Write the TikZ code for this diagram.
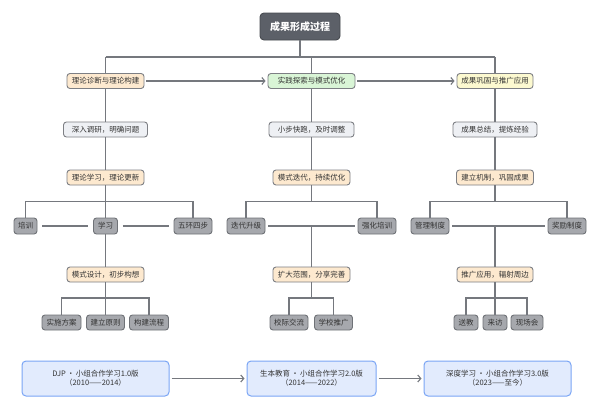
\documentclass[tikz,border=0pt]{standalone}
\usepackage{fontspec}
\setmainfont{Noto Sans CJK SC}
\usetikzlibrary{arrows.meta}
\definecolor{ln}{HTML}{75787E}
\definecolor{rootfill}{HTML}{5C6068}
\definecolor{rootdraw}{HTML}{474A50}
\definecolor{peach}{HTML}{FDE9CF}
\definecolor{greenf}{HTML}{D9F5D6}
\definecolor{yellowf}{HTML}{FCF9D0}
\definecolor{lgray}{HTML}{EEF0F4}
\definecolor{leaff}{HTML}{A6A8AD}
\definecolor{leafd}{HTML}{6F7277}
\definecolor{boxd}{HTML}{7D7F84}
\definecolor{bluef}{HTML}{E2EBFD}
\definecolor{blued}{HTML}{7AA5F5}
\definecolor{txt}{HTML}{333333}
\tikzset{
  base/.style={rectangle, rounded corners=3pt, inner sep=0pt, line width=0.9pt, draw=boxd, text=txt, font=\fontsize{7.5}{9}\selectfont, align=center},
  rootbox/.style={base, fill=rootfill, draw=rootdraw, text=white, font=\fontsize{10}{12}\selectfont\bfseries, minimum width=80pt, minimum height=27pt, rounded corners=4pt},
  peachbox/.style={base, fill=peach, minimum height=15pt},
  greenbox/.style={base, fill=greenf, minimum height=15pt},
  yellowbox/.style={base, fill=yellowf, minimum height=15pt},
  graybox/.style={base, fill=lgray, minimum height=15pt},
  leafbox/.style={base, fill=leaff, draw=leafd, minimum height=16pt},
  bluebox/.style={base, fill=bluef, draw=blued, line width=1pt, minimum height=35pt, rounded corners=4pt},
  conn/.style={draw=ln, line width=1.1pt},
  arr/.style={conn, -{Straight Barb[length=3pt,width=7pt]}},
}
\begin{document}
\begin{tikzpicture}[x=1pt,y=-1pt]
\useasboundingbox (0,0) rectangle (600,410);
\fill[white] (0,0) rectangle (600,410);

% root
\node[rootbox] (root) at (300,26.5) {成果形成过程};

% level 1
\node[peachbox, minimum width=77pt] (a1) at (105.5,81) {理论诊断与理论构建};
\node[greenbox, minimum width=87pt] (a2) at (311.5,81) {实践探索与模式优化};
\node[yellowbox, minimum width=76pt] (a3) at (495,81) {成果巩固与推广应用};

% level 2
\node[graybox, minimum width=84pt] (b1) at (105.5,129.5) {深入调研，明确问题};
\node[graybox, minimum width=85pt] (b2) at (311.5,129.5) {小步快跑，及时调整};
\node[graybox, minimum width=84pt] (b3) at (495,129.5) {成果总结，提炼经验};

% level 3
\node[peachbox, minimum width=77pt] (c1) at (105.5,177.5) {理论学习，理论更新};
\node[peachbox, minimum width=77pt] (c2) at (311.5,177.5) {模式迭代，持续优化};
\node[peachbox, minimum width=77pt] (c3) at (495,177.5) {建立机制，巩固成果};

% level 4 leaves
\node[leafbox, minimum width=23pt] (p1) at (25.5,226) {培训};
\node[leafbox, minimum width=24pt] (p2) at (105.5,226) {学习};
\node[leafbox, minimum width=38pt] (p3) at (193,226) {五环四步};
\node[leafbox, minimum width=38pt] (q1) at (246,226) {迭代升级};
\node[leafbox, minimum width=38pt] (q2) at (377,226) {强化培训};
\node[leafbox, minimum width=38pt] (r1) at (430,226) {管理制度};
\node[leafbox, minimum width=38pt] (r2) at (567,226) {奖励制度};

% level 5
\node[peachbox, minimum width=77pt] (d1) at (105.5,274.5) {模式设计，初步构想};
\node[peachbox, minimum width=77pt] (d2) at (311.5,274.5) {扩大范围，分享完善};
\node[peachbox, minimum width=76pt] (d3) at (495,274.5) {推广应用，辐射周边};

% level 6 leaves
\node[leafbox, minimum width=39pt, minimum height=15pt] (s1) at (61.5,322.5) {实施方案};
\node[leafbox, minimum width=38pt, minimum height=15pt] (s2) at (105.5,322.5) {建立原则};
\node[leafbox, minimum width=39pt, minimum height=15pt] (s3) at (149,322.5) {构建流程};
\node[leafbox, minimum width=38pt, minimum height=15pt] (t1) at (289,322.5) {校际交流};
\node[leafbox, minimum width=38pt, minimum height=15pt] (t2) at (333.5,322.5) {学校推广};
\node[leafbox, minimum width=24pt, minimum height=15pt] (u1) at (466,322.5) {送教};
\node[leafbox, minimum width=24pt, minimum height=15pt] (u2) at (495,322.5) {来访};
\node[leafbox, minimum width=32pt, minimum height=15pt] (u3) at (527,322.5) {现场会};

% bottom
\node[bluebox, minimum width=147pt] (e1) at (95.5,378.5) {DJP\,•\,小组合作学习1.0版\\（2010——2014）};
\node[bluebox, minimum width=129pt] (e2) at (311.5,378.5) {生本教育\,•\,小组合作学习2.0版\\（2014——2022）};
\node[bluebox, minimum width=147pt] (e3) at (497.5,378.5) {深度学习\,•\,小组合作学习3.0版\\（2023——至今）};

% coordinates
\coordinate (rb) at (300,57);
\coordinate (bl) at (105.5,57);
\coordinate (br) at (495,57);
\coordinate (m2) at (311.5,57);

\coordinate (k1) at (105.5,201.5);
\coordinate (k1l) at (25.5,201.5);
\coordinate (k1r) at (193,201.5);
\coordinate (k2) at (311.5,201.5);
\coordinate (k2l) at (246,201.5);
\coordinate (k2r) at (377,201.5);
\coordinate (k3) at (495,201.5);
\coordinate (k3l) at (430,201.5);
\coordinate (k3r) at (567,201.5);
\coordinate (j2) at (311.5,226);
\coordinate (j3) at (495,226);

\coordinate (h1) at (105.5,298);
\coordinate (h1l) at (61.5,298);
\coordinate (h1r) at (149,298);
\coordinate (h2) at (311.5,298);
\coordinate (h2l) at (289,298);
\coordinate (h2r) at (333.5,298);
\coordinate (h3) at (495,298);
\coordinate (h3l) at (466,298);
\coordinate (h3r) at (527,298);

% root connectors
\draw[conn] (root.south) -- (rb);
\draw[conn] (bl) -- (br);
\draw[conn] (bl) -- (a1.north);
\draw[conn] (m2) -- (a2.north);
\draw[conn] (br) -- (a3.north);

% level arrows
\draw[arr] (a1.east) ++(2,0) -- ([xshift=-2pt]a2.west);
\draw[arr] (a2.east) ++(2,0) -- ([xshift=-2pt]a3.west);

% vertical chains
\draw[conn] (a1.south) -- (b1.north);
\draw[conn] (b1.south) -- (c1.north);
\draw[conn] (a2.south) -- (b2.north);
\draw[conn] (b2.south) -- (c2.north);
\draw[conn] (a3.south) -- (b3.north);
\draw[conn] (b3.south) -- (c3.north);

% column 1 level 4
\draw[conn] (c1.south) -- (p2.north);
\draw[conn] (p1.north) -- (k1l) -- (k1r) -- (p3.north);
\draw[conn] ([xshift=5pt]p1.east) -- ([xshift=-5pt]p2.west);
\draw[conn] ([xshift=5pt]p2.east) -- ([xshift=-5pt]p3.west);
\draw[conn] (p2.south) -- (d1.north);

% column 2 level 4
\draw[conn] (c2.south) -- (k2);
\draw[conn] (q1.north) -- (k2l) -- (k2r) -- (q2.north);
\draw[conn] ([xshift=3pt]q1.east) -- ([xshift=-3pt]q2.west);
\draw[conn] (j2) -- (d2.north);

% column 3 level 4
\draw[conn] (c3.south) -- (k3);
\draw[conn] (r1.north) -- (k3l) -- (k3r) -- (r2.north);
\draw[conn] ([xshift=3pt]r1.east) -- ([xshift=-3pt]r2.west);
\draw[conn] (j3) -- (d3.north);

% level 6
\draw[conn] (d1.south) -- (s2.north);
\draw[conn] (s1.north) -- (h1l) -- (h1r) -- (s3.north);
\draw[conn] (d2.south) -- (h2);
\draw[conn] (t1.north) -- (h2l) -- (h2r) -- (t2.north);
\draw[conn] (d3.south) -- (u2.north);
\draw[conn] (u1.north) -- (h3l) -- (h3r) -- (u3.north);

% bottom arrows
\draw[arr] ([xshift=2pt]e1.east) -- ([xshift=-2pt]e2.west);
\draw[arr] ([xshift=2pt]e2.east) -- ([xshift=-2pt]e3.west);
\end{tikzpicture}
\end{document}
